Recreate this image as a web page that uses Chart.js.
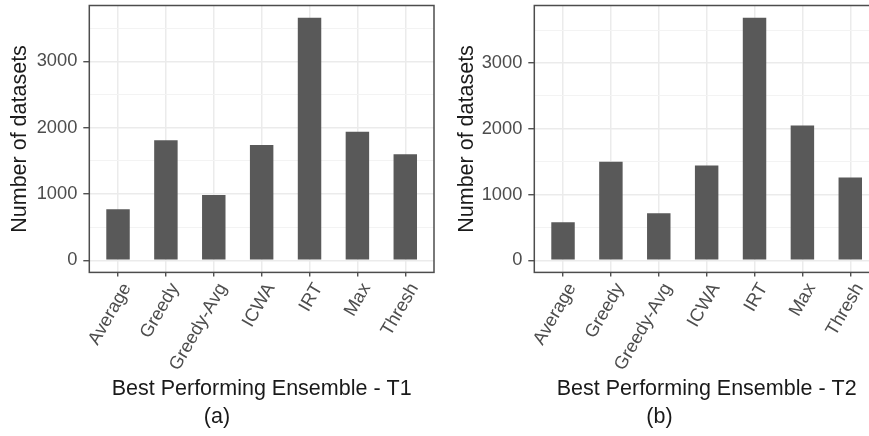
<!DOCTYPE html>
<html>
<head>
<meta charset="utf-8">
<script src="https://cdn.jsdelivr.net/npm/chart.js@4.4.1/dist/chart.umd.min.js"></script>
<style>
html, body { margin: 0; padding: 0; background: #fff; width: 869px; height: 436px; overflow: hidden; }
canvas { position: absolute; top: 0; }
#chartT1 { left: 0; }
#chartT2 { left: 440px; }
</style>
</head>
<body>
<canvas id="chartT1" width="472" height="436"></canvas>
<canvas id="chartT2" width="527" height="436"></canvas>
<script>
const categories = ["Average", "Greedy", "Greedy-Avg", "ICWA", "IRT", "Max", "Thresh"];
const countsT1 = [770, 1810, 985, 1740, 3660, 1940, 1600];
const countsT2 = [580, 1500, 715, 1440, 3690, 2050, 1260];
const yGridStep = 500;
const yLabelStep = 1000;

const FONT = "'Liberation Sans', Arial, sans-serif";
const tickFont = { family: FONT, size: 18.3 };
const titleFont = { family: FONT, size: 21.5 };

// ggplot style full panel border
const panelBorder = {
    id: "panelBorder",
    afterDraw(chart) {
        const a = chart.chartArea;
        const ctx = chart.ctx;
        ctx.save();
        ctx.strokeStyle = "#4d4d4d";
        ctx.lineWidth = 1.5;
        ctx.strokeRect(a.left, a.top, a.right - a.left, a.bottom - a.top);
        ctx.restore();
    }
};

function isMajor(c) {
    return c.tick && c.tick.value % yLabelStep === 0;
}

function makeChart(id, values, xTitle, tag, yWidth, yTitlePad, padRight) {
    const top = Math.max(...values);
    const yMin = -0.05 * top;
    const yMax = 1.05 * top;

    return new Chart(document.getElementById(id), {
        type: "bar",
        data: {
            datasets: [{
                data: values.map((v, i) => ({ x: i, y: v })),
                backgroundColor: "#595959",
                borderWidth: 0,
                barPercentage: 0.49,
                categoryPercentage: 1
            }]
        },
        options: {
            responsive: false,
            animation: false,
            layout: { padding: { left: 0, right: padRight, top: 5.5, bottom: 0 } },
            plugins: {
                legend: { display: false },
                tooltip: { enabled: false },
                subtitle: {
                    display: true,
                    position: "bottom",
                    text: tag,
                    color: "#1a1a1a",
                    font: titleFont,
                    padding: { top: 0, bottom: 6 }
                }
            },
            scales: {
                x: {
                    type: "linear",
                    offset: false,
                    min: -0.6,
                    max: categories.length - 0.4,
                    afterBuildTicks: s => { s.ticks = categories.map((c, i) => ({ value: i })); },
                    afterFit: s => { s.height = 131.8; s.paddingLeft = 0; s.paddingRight = 0; },
                    ticks: {
                        autoSkip: false,
                        minRotation: 60,
                        maxRotation: 60,
                        padding: 3,
                        labelOffset: 9,
                        color: "#4d4d4d",
                        font: tickFont,
                        callback: v => categories[v]
                    },
                    grid: { offset: false, color: "#ebebeb", lineWidth: 1.5, tickColor: "#333", tickLength: 4, tickWidth: 1.2 },
                    border: { display: false },
                    title: { display: true, text: xTitle, color: "#1a1a1a", font: titleFont, padding: { top: 0, bottom: 2 } }
                },
                y: {
                    min: yMin,
                    max: yMax,
                    afterBuildTicks: s => {
                        const t = [];
                        for (let v = 0; v <= yMax; v += yGridStep) t.push({ value: v });
                        s.ticks = t;
                    },
                    afterFit: s => { s.width = yWidth; s.paddingTop = 0; s.paddingBottom = 0; },
                    ticks: {
                        padding: 6,
                        color: "#4d4d4d",
                        font: tickFont,
                        callback: v => (v % yLabelStep === 0 ? v : "")
                    },
                    grid: {
                        color: c => (isMajor(c) ? "#ebebeb" : "#f3f3f3"),
                        lineWidth: c => (isMajor(c) ? 1.5 : 1),
                        tickColor: c => (isMajor(c) ? "#333" : "rgba(0,0,0,0)"),
                        tickLength: 6,
                        tickWidth: 1.2
                    },
                    border: { display: false },
                    title: { display: true, text: "Number of datasets", color: "#1a1a1a", font: titleFont, padding: { top: yTitlePad, bottom: 0 } }
                }
            }
        },
        plugins: [panelBorder]
    });
}

makeChart("chartT1", countsT1, "Best Performing Ensemble - T1", "(a)", 89.3, 7, 38);
makeChart("chartT2", countsT2, "Best Performing Ensemble - T2", "(b)", 94.3, 14, 88);
</script>
</body>
</html>
